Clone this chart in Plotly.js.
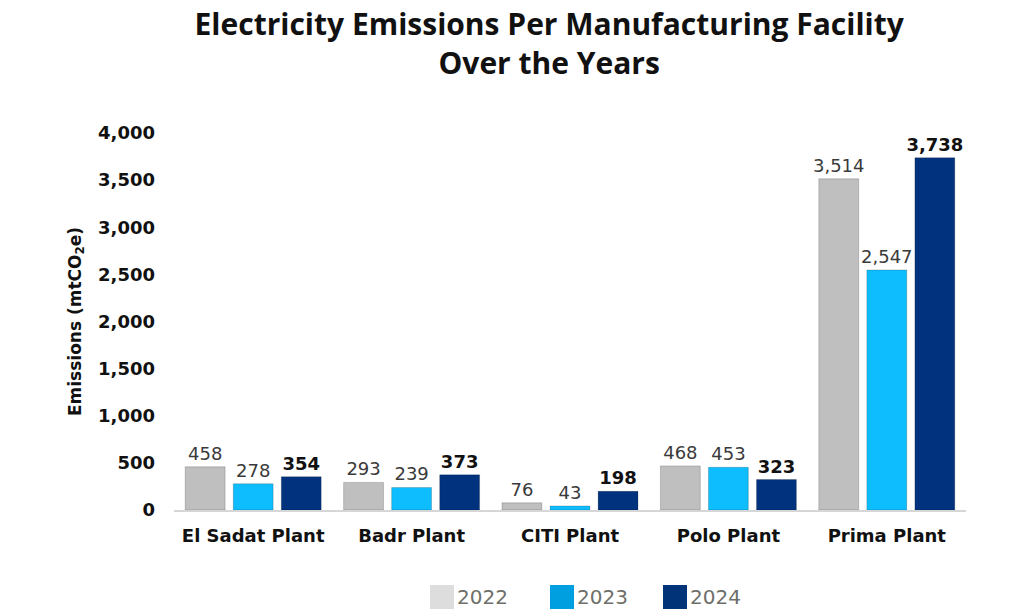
<!DOCTYPE html>
<html>
<head>
<meta charset="utf-8">
<script src="https://cdn.plot.ly/plotly-3.0.1.min.js"></script>
<style>
  html, body { margin: 0; padding: 0; background: #ffffff; }
  #chart { width: 1017px; height: 612px; }
</style>
</head>
<body>
<div id="chart"></div>
<script>
// Electricity emissions (mtCO2e) per plant, 2022–2024
const plants = ["El Sadat Plant", "Badr Plant", "CITI Plant", "Polo Plant", "Prima Plant"];
const years = ["2022", "2023", "2024"];
const emissions2022 = [458, 293, 76, 468, 3514];
const emissions2023 = [278, 239, 43, 453, 2547];
const emissions2024 = [354, 373, 198, 323, 3738];
const yTicks = [0, 500, 1000, 1500, 2000, 2500, 3000, 3500, 4000];

const barColors = ["#bfbfbf", "#0dbdfd", "#00327d"];
const legendColors = ["#dddddd", "#009fdf", "#003377"];

const FONT = "DejaVu Sans, Open Sans, sans-serif";
const TITLE_FONT = "Open Sans, Lato, sans-serif";

function barTrace(name, values, color, bold) {
  return {
    type: "bar",
    name: name,
    x: plants,
    y: values,
    marker: { color: color, line: { color: "rgba(0,0,0,0.18)", width: 1 } },
    text: values.map(v => bold ? "<b>" + v.toLocaleString("en-US") + "</b>" : v.toLocaleString("en-US")),
    textposition: "outside",
    constraintext: "none",
    cliponaxis: false,
    textfont: { family: FONT, size: 18, color: bold ? "#111111" : "#3a3a3a" },
    hoverinfo: "x+y",
    showlegend: false
  };
}

const data = [
  barTrace(years[0], emissions2022, barColors[0], false),
  barTrace(years[1], emissions2023, barColors[1], false),
  barTrace(years[2], emissions2024, barColors[2], true)
];

// Legend: large square swatches with year labels below the plot
const plotLeft = 174, plotWidth = 792, plotBottom = 510, plotHeight = 377;
const px = x => (x - plotLeft) / plotWidth;
const py = y => (plotBottom - y) / plotHeight;
const swatchLeft = [430, 550, 663];
const shapes = [];
const annotations = [];
years.forEach((yr, i) => {
  shapes.push({
    type: "rect", xref: "paper", yref: "paper",
    x0: px(swatchLeft[i]), x1: px(swatchLeft[i] + 24),
    y0: py(609), y1: py(585),
    fillcolor: legendColors[i], line: { width: 0 }
  });
  annotations.push({
    xref: "paper", yref: "paper",
    x: px(swatchLeft[i] + 25), y: py(597),
    xanchor: "left", yanchor: "middle",
    text: yr, showarrow: false,
    font: { family: FONT, size: 20, color: "#6f6f6a" }
  });
});

const layout = {
  width: 1017,
  height: 612,
  margin: { l: 174, r: 51, t: 133, b: 102 },
  paper_bgcolor: "#ffffff",
  plot_bgcolor: "#ffffff",
  title: {
    text: "<b>Electricity Emissions Per Manufacturing Facility<br>Over the Years</b>",
    font: { family: TITLE_FONT, size: 30, color: "#111111" },
    x: 0.54, xanchor: "center",
    yref: "container",
    y: 0.942, yanchor: "top"
  },
  barmode: "group",
  bargap: 0.09,
  bargroupgap: 0.17,
  xaxis: {
    type: "category",
    showline: true,
    linecolor: "#d6d6d6",
    linewidth: 2,
    showgrid: false,
    ticks: "",
    ticklabelstandoff: 8,
    tickfont: { family: FONT, size: 18, color: "#111111", weight: "bold" }
  },
  yaxis: {
    range: [0, 4000],
    tickvals: yTicks,
    ticktext: yTicks.map(v => v.toLocaleString("en-US")),
    showgrid: false,
    zeroline: false,
    showline: false,
    ticks: "",
    ticklabelstandoff: 18,
    tickfont: { family: FONT, size: 18, color: "#111111", weight: "bold" },
    title: {
      text: "<b>Emissions (mtCO<sub>2</sub>e)</b>",
      font: { family: FONT, size: 17, color: "#111111" },
      standoff: 12
    }
  },
  shapes: shapes,
  annotations: annotations
};

Plotly.newPlot("chart", data, layout, { displayModeBar: false, responsive: false });
</script>
</body>
</html>
